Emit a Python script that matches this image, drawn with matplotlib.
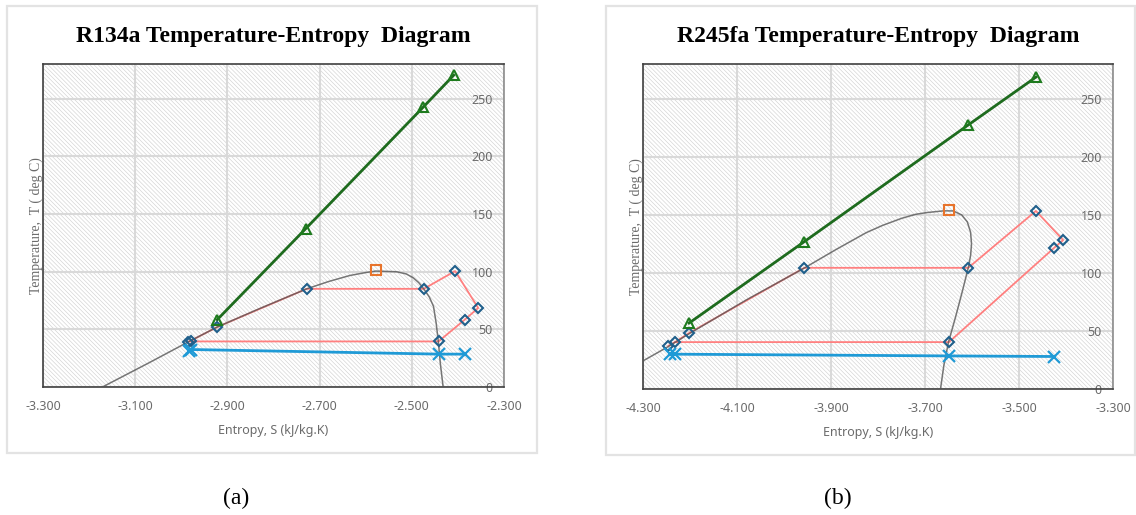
import matplotlib
matplotlib.use("Agg")
import matplotlib.pyplot as plt
from matplotlib.patches import Rectangle

# ---- R134a (a) ----
r134_dome_s = [-3.171, -3.07, -2.983, -2.922, -2.83, -2.728, -2.68, -2.634, -2.60, -2.578, -2.533,
               -2.512, -2.497, -2.485, -2.474, -2.462, -2.453, -2.447, -2.4425, -2.438, -2.432]
r134_dome_t = [0, 21, 39.5, 52, 68, 85.1, 91.5, 96.7, 99.2, 100.5, 99.9,
               98, 94.7, 90.5, 85.1, 78, 70, 55, 39.5, 20, 0]
r134_cycle_s = [-2.986, -2.980, -2.922, -2.728, -2.474, -2.406, -2.356, -2.385, -2.442, -2.980]
r134_cycle_t = [39.0, 40.0, 52.0, 85.1, 85.1, 100.5, 68.5, 58.4, 39.5, 39.5]
r134_hot_s = [-2.922, -2.730, -2.475, -2.409]
r134_hot_t = [58.4, 137.3, 242.7, 270.3]
r134_cold_s = [-2.984, -2.980, -2.442, -2.385]
r134_cold_t = [31.5, 32.5, 28.5, 28.5]
r134_crit = (-2.578, 101.0)

# ---- R245fa (b) ----
r245_dome_s = [-4.30, -4.246, -4.202, -4.079, -3.956, -3.89, -3.825, -3.79, -3.75, -3.72, -3.696,
               -3.66, -3.640, -3.622, -3.610, -3.603, -3.601, -3.603, -3.608, -3.62, -3.635,
               -3.650, -3.660, -3.667]
r245_dome_t = [24.2, 36.6, 47.6, 77, 104.4, 120, 134.7, 141, 147, 150.5, 152,
               153.5, 153.4, 150, 144, 135, 125, 115, 104.4, 85, 62,
               40.4, 20, 0]
r245_cycle_s = [-4.246, -4.232, -4.202, -3.957, -3.608, -3.464, -3.406, -3.425, -3.649, -4.232]
r245_cycle_t = [37.2, 40.4, 48.2, 104.4, 104.4, 153.4, 128.3, 121.7, 40.4, 40.4]
r245_hot_s = [-4.202, -3.957, -3.608, -3.464]
r245_hot_t = [56.8, 126.9, 227.5, 268.7]
r245_cold_s = [-4.242, -4.232, -3.649, -3.425]
r245_cold_t = [30.0, 30.0, 28.5, 28.0]
r245_crit = (-3.649, 154.0)

y_ticks = [0, 50, 100, 150, 200, 250]
r134_x_ticks = [-3.3, -3.1, -2.9, -2.7, -2.5, -2.3]
r245_x_ticks = [-4.3, -4.1, -3.9, -3.7, -3.5, -3.3]

W, H = 1136, 515
fig = plt.figure(figsize=(W / 100, H / 100), dpi=100)
fig.patch.set_facecolor("white")
plt.rcParams["hatch.linewidth"] = 0.45

sans = "Noto Sans"
serif = "Liberation Serif"
lab_col = "#6b6b6b"


def frame(x0, y0, x1, y1):
    fig.add_artist(Rectangle((x0 / W, 1 - y1 / H), (x1 - x0) / W, (y1 - y0) / H,
                             transform=fig.transFigure, fill=False,
                             edgecolor="#e3e3e3", lw=1.6))


def panel(rect, xticks, dome_s, dome_t, cyc_s, cyc_t, hot_s, hot_t, cold_s, cold_t, crit, title):
    x0, y0, x1, y1 = rect
    ax = fig.add_axes([x0 / W, 1 - y1 / H, (x1 - x0) / W, (y1 - y0) / H])
    ax.add_patch(Rectangle((0, 0), 1, 1, transform=ax.transAxes, facecolor="white",
                           edgecolor="#d2d2d2", hatch="\\" * 8, lw=0, zorder=0))
    ax.set_axisbelow(True)
    ax.grid(True, color="#d9d9d9", lw=1.5)

    ax.plot(cyc_s, cyc_t, color="#ff7f7f", lw=1.3, zorder=2)
    ax.plot(dome_s, dome_t, color="#555555", lw=1.1, alpha=0.8, zorder=3)
    ax.plot(cyc_s[:-1], cyc_t[:-1], ls="none", marker="D", ms=5, mfc="none",
            mec="#1f5f8b", mew=1.5, zorder=4)
    ax.plot(hot_s, hot_t, color="#1e6b1e", lw=2, marker="^", ms=7, mfc="none",
            mec="#1e7b1e", mew=1.5, zorder=5)
    ax.plot(cold_s, cold_t, color="#1f9ad6", lw=2, marker="x", ms=8, mew=1.6, zorder=5)
    ax.plot([crit[0]], [crit[1]], ls="none", marker="s", ms=7, mfc="none",
            mec="#e8742c", mew=1.5, zorder=6)

    ax.set_xlim(xticks[0], xticks[-1])
    ax.set_ylim(0, 280)
    ax.set_xticks(xticks)
    ax.set_xticklabels([f"{v:.3f}" for v in xticks], fontfamily=sans, fontsize=9, color=lab_col)
    ax.set_yticks(y_ticks)
    ax.yaxis.tick_right()
    ax.set_yticklabels([str(v) for v in y_ticks], fontfamily=sans, fontsize=9,
                       color=lab_col, ha="right")
    ax.tick_params(axis="y", length=0, pad=-8)
    ax.tick_params(axis="x", length=0, pad=9)
    for sp in ax.spines.values():
        sp.set_color("#404040")
        sp.set_linewidth(1.2)
    ax.spines["right"].set_color("#8c8c8c")

    ax.set_xlabel("Entropy, S (kJ/kg.K)", fontfamily=sans, fontsize=9, color=lab_col, labelpad=8)
    ax.set_ylabel("Temperature,  T ( deg C)", fontfamily=serif, fontsize=10, color=lab_col,
                  labelpad=0)
    ax.yaxis.set_label_position("left")
    ax.set_title(title, fontfamily=serif, fontweight="bold", fontsize=17, pad=16)
    return ax


frame(7, 6, 537, 453)
frame(606, 6, 1135, 455)

panel((43, 64, 504, 387), r134_x_ticks, r134_dome_s, r134_dome_t, r134_cycle_s, r134_cycle_t,
      r134_hot_s, r134_hot_t, r134_cold_s, r134_cold_t, r134_crit,
      "R134a Temperature-Entropy  Diagram")
panel((643, 64, 1113, 389), r245_x_ticks, r245_dome_s, r245_dome_t, r245_cycle_s, r245_cycle_t,
      r245_hot_s, r245_hot_t, r245_cold_s, r245_cold_t, r245_crit,
      "R245fa Temperature-Entropy  Diagram")

fig.text(236 / W, 1 - 498 / H, "(a)", fontfamily=serif, fontsize=17, ha="center", va="center")
fig.text(838 / W, 1 - 498 / H, "(b)", fontfamily=serif, fontsize=17, ha="center", va="center")

fig.savefig("out.png", dpi=100)
